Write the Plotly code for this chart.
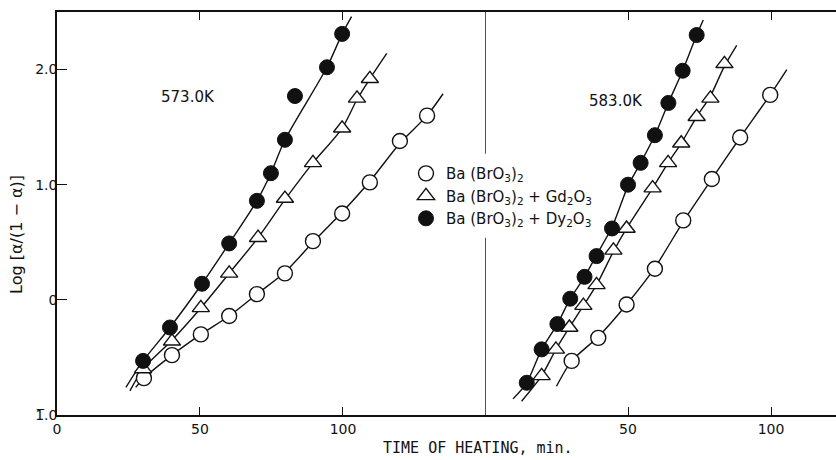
import plotly.graph_objects as go

# ---------------- data ----------------
# Left panel: 573.0 K
l_ba_x = [30.4, 40.2, 50.3, 60.2, 69.9, 79.7, 89.5, 99.7, 109.4, 119.9, 129.4]
l_ba_y = [-0.68, -0.48, -0.30, -0.14, 0.05, 0.23, 0.51, 0.75, 1.02, 1.38, 1.60]
l_gd_x = [30.1, 40.2, 50.3, 60.2, 70.3, 79.7, 89.5, 99.7, 104.9, 109.4]
l_gd_y = [-0.60, -0.36, -0.07, 0.23, 0.54, 0.88, 1.19, 1.49, 1.75, 1.92]
l_dy_x = [30.1, 39.5, 50.7, 60.2, 69.9, 74.8, 79.7, 83.2, 94.4, 99.7]
l_dy_y = [-0.53, -0.24, 0.14, 0.49, 0.86, 1.10, 1.39, 1.77, 2.02, 2.31]

# fitted curves (left)
l_ba_cx = [27.5, 30.4, 40.2, 50.3, 60.2, 69.9, 79.7, 89.5, 99.7, 109.4, 119.9, 129.4, 135.0]
l_ba_cy = [-0.76, -0.68, -0.48, -0.30, -0.14, 0.05, 0.24, 0.50, 0.76, 1.03, 1.36, 1.60, 1.79]
l_gd_cx = [25.5, 30.1, 40.2, 50.3, 60.2, 70.3, 79.7, 89.5, 99.7, 104.9, 109.4, 115.3]
l_gd_cy = [-0.79, -0.60, -0.35, -0.07, 0.23, 0.54, 0.87, 1.19, 1.49, 1.74, 1.92, 2.14]
l_dy_cx = [24.1, 30.1, 39.5, 50.7, 60.2, 69.9, 74.8, 79.7, 94.4, 99.7, 103.0]
l_dy_cy = [-0.76, -0.53, -0.24, 0.14, 0.49, 0.86, 1.10, 1.39, 2.02, 2.31, 2.46]

# Right panel: 583.0 K
r_ba_x = [30.3, 39.6, 49.5, 59.4, 69.3, 79.3, 89.2, 99.7]
r_ba_y = [-0.53, -0.33, -0.04, 0.27, 0.69, 1.05, 1.41, 1.78]
r_gd_x = [19.8, 24.8, 29.5, 34.4, 39.0, 44.9, 49.5, 58.6, 64.0, 68.6, 74.0, 78.8, 83.7]
r_gd_y = [-0.66, -0.43, -0.24, -0.05, 0.13, 0.43, 0.62, 0.97, 1.19, 1.36, 1.59, 1.75, 2.05]
r_dy_x = [14.6, 19.8, 25.3, 29.8, 34.8, 39.0, 44.4, 50.0, 54.4, 59.4, 64.1, 69.1, 74.0]
r_dy_y = [-0.72, -0.43, -0.21, 0.01, 0.20, 0.38, 0.62, 1.00, 1.19, 1.43, 1.71, 1.99, 2.30]

# fitted curves (right)
r_ba_cx = [25.0, 30.3, 39.6, 49.5, 59.4, 69.3, 79.3, 89.2, 99.7, 105.5]
r_ba_cy = [-0.75, -0.53, -0.32, -0.04, 0.28, 0.68, 1.05, 1.41, 1.78, 2.00]
r_gd_cx = [12.8, 19.8, 24.8, 29.5, 34.4, 39.0, 44.9, 49.5, 58.6, 64.0, 68.6, 74.0, 78.8, 83.7, 88.0]
r_gd_cy = [-0.88, -0.66, -0.43, -0.24, -0.05, 0.13, 0.42, 0.62, 0.97, 1.19, 1.36, 1.59, 1.77, 2.03, 2.21]
r_dy_cx = [9.8, 14.6, 19.8, 25.3, 29.8, 34.8, 39.0, 44.4, 50.0, 54.4, 59.4, 64.1, 69.1, 74.0, 76.3]
r_dy_cy = [-0.86, -0.72, -0.43, -0.21, 0.01, 0.20, 0.39, 0.63, 0.99, 1.19, 1.43, 1.71, 1.99, 2.30, 2.43]

x_tick_vals_left = [0, 50, 100]
x_tick_text_left = ["0", "50", "100"]
x_tick_vals_right = [50, 100]
x_tick_text_right = ["50", "100"]
y_tick_vals = [-1, 0, 1, 2]
y_tick_text = ["1\u0305.0", "0", "1.0", "2.0"]

names = [
    "Ba (BrO<sub>3</sub>)<sub>2</sub>",
    "Ba (BrO<sub>3</sub>)<sub>2</sub> + Gd<sub>2</sub>O<sub>3</sub>",
    "Ba (BrO<sub>3</sub>)<sub>2</sub> + Dy<sub>2</sub>O<sub>3</sub>",
]

FONT = "DejaVu Sans"
MONO = "DejaVu Sans Mono"
INK = "#111111"

fig = go.Figure()

curves = [
    (l_ba_cx, l_ba_cy, "x"), (l_gd_cx, l_gd_cy, "x"), (l_dy_cx, l_dy_cy, "x"),
    (r_ba_cx, r_ba_cy, "x2"), (r_gd_cx, r_gd_cy, "x2"), (r_dy_cx, r_dy_cy, "x2"),
]
for cx, cy, xa in curves:
    fig.add_trace(go.Scatter(
        x=cx, y=cy, mode="lines", xaxis=xa, yaxis="y",
        line=dict(color=INK, width=1.4, shape="spline", smoothing=0.7),
        showlegend=False, hoverinfo="skip"))

styles = [
    dict(symbol="circle", color="white", size=15, line=dict(color=INK, width=1.4)),
    dict(symbol="triangle-up", color="white", size=15, line=dict(color=INK, width=1.4)),
    dict(symbol="circle", color=INK, size=15, line=dict(color=INK, width=1.0)),
]
series = [
    (l_ba_x, l_ba_y, r_ba_x, r_ba_y),
    (l_gd_x, l_gd_y, r_gd_x, r_gd_y),
    (l_dy_x, l_dy_y, r_dy_x, r_dy_y),
]
for (lx, ly, rx, ry), st, nm in zip(series, styles, names):
    fig.add_trace(go.Scatter(x=lx, y=ly, mode="markers", xaxis="x", yaxis="y",
                             marker=st, name=nm, showlegend=True))
    fig.add_trace(go.Scatter(x=rx, y=ry, mode="markers", xaxis="x2", yaxis="y",
                             marker=st, name=nm, showlegend=False))

SPLIT = 0.5494
axis_common = dict(showline=True, linecolor=INK, linewidth=1.5, showgrid=False,
                   zeroline=False, ticks="inside", tickcolor=INK, tickwidth=1.3,
                   automargin=False,
                   tickfont=dict(family=FONT, size=14, color=INK))
side_ticks = dict(range=[-1, 2.5], overlaying="y", showline=False, showgrid=False,
                  zeroline=False, ticks="inside", tickcolor=INK, tickwidth=1.3,
                  showticklabels=False, automargin=False)

fig.update_layout(
    width=836, height=460,
    margin=dict(l=57, r=0, t=12, b=45),
    paper_bgcolor="white", plot_bgcolor="white",
    font=dict(family=FONT, color=INK, size=13),
    xaxis=dict(domain=[0, SPLIT], range=[0, 149.65], anchor="y", mirror="ticks",
               tickvals=x_tick_vals_left, ticktext=x_tick_text_left, ticklen=8,
               **axis_common),
    xaxis2=dict(domain=[SPLIT, 1], range=[0, 122.7], anchor="y", mirror="ticks",
                tickvals=x_tick_vals_right, ticktext=x_tick_text_right, ticklen=8,
                **axis_common),
    yaxis=dict(domain=[0, 1], range=[-1, 2.5], anchor="x",
               tickvals=y_tick_vals, ticktext=y_tick_text, ticklen=10,
               ticklabelstandoff=-5, **axis_common),
    yaxis2=dict(anchor="x2", side="right", ticklen=7, tickvals=[0, 1, 2], **side_ticks),
    yaxis3=dict(anchor="x2", side="left", ticklen=10, tickvals=[0, 2], **side_ticks),
    yaxis4=dict(anchor="x", side="right", ticklen=10, tickvals=[0, 2], **side_ticks),
    legend=dict(x=0.448, y=0.64, xanchor="left", yanchor="top",
                bgcolor="rgba(255,255,255,0)", borderwidth=0,
                font=dict(family=FONT, size=15, color=INK),
                tracegroupgap=0, itemwidth=30),
    showlegend=True,
)

# divider between panels (interrupted by the legend area)
for y0, y1 in [(-1, 0.54), (1.27, 2.5)]:
    fig.add_shape(type="line", xref="x2", yref="y", x0=0, x1=0, y0=y0, y1=y1,
                  line=dict(color=INK, width=1.5))

fig.add_annotation(text="573.0K", xref="x", yref="y", x=45.8, y=1.76,
                   showarrow=False, font=dict(family=FONT, size=15, color=INK))
fig.add_annotation(text="583.0K", xref="x2", yref="y", x=45.8, y=1.73,
                   showarrow=False, font=dict(family=FONT, size=15, color=INK))
fig.add_annotation(text="TIME OF HEATING, min.", xref="paper", yref="paper",
                   x=0.540, y=-0.082, xanchor="center", yanchor="middle",
                   showarrow=False, font=dict(family=MONO, size=15, color=INK))
fig.add_annotation(text="Log [α/(1 − α)]", xref="paper", yref="paper",
                   x=-0.0513, y=0.447, xanchor="center", yanchor="middle",
                   textangle=-90, showarrow=False,
                   font=dict(family=FONT, size=16, color=INK))

fig.write_html("out.html",
               config={"displayModeBar": False},
               post_script="document.body.style.margin='0px';"
                           "document.body.style.overflow='hidden';")
